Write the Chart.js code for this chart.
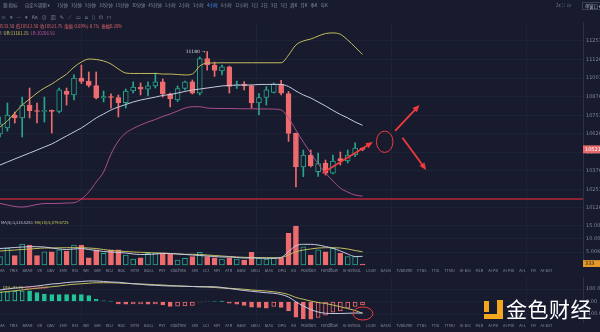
<!DOCTYPE html>
<html>
<head>
<meta charset="utf-8">
<script src="https://cdn.jsdelivr.net/npm/chart.js@4.4.1/dist/chart.umd.min.js"></script>
<style>
  body { margin: 0; width: 600px; height: 332px; overflow: hidden; position: relative; background: #171b2d;
         font-family: "Noto Sans CJK SC", "Noto Sans", "DejaVu Sans", sans-serif; }
  canvas { position: absolute; left: 0; }
  .row { position: absolute; white-space: nowrap; line-height: 1; color: #868b9e; z-index: 2; }
  .flex { display: flex; justify-content: space-between; }
  .logo { position: absolute; background: #f3a71f; z-index: 2; }
</style>
</head>
<body>
<div class="row" style="left:3px;top:3px;font-size:4.5px">▦ 指标</div>
<div class="row" style="left:25px;top:3px;font-size:4.3px">自定义周期 ▾</div>
<div class="row flex" id="periods" style="left:57px;width:271px;top:3px;font-size:4.3px"></div>
<div class="row" style="left:556px;top:3px;font-size:4.3px">2x&nbsp; ⛶&nbsp; ⊡</div>
<div class="row" style="left:582px;top:2px;font-size:4.3px;border:0.5px solid #3a3f55;padding:1px 2px;color:#b0b4c4">单窗口 ▾</div>
<div class="row flex" id="tools" style="left:1px;width:110px;top:14px;font-size:5px"></div>

<div class="row" style="left:-8px;top:23.5px;font-size:4.3px;color:#e0646a">高10533.58&nbsp; 低10512.50&nbsp; 收10521.75&nbsp; 涨幅-0.09%(-8.75)&nbsp; 振幅0.20%</div>
<div class="row" style="left:-4px;top:30.5px;font-size:4.3px">BB&nbsp; <span style="color:#d2c95a">UB:11161.15</span>&nbsp; <span style="color:#c2579e">LB:10206.56</span></div>
<div class="row" style="left:-6px;top:220px;font-size:4px">OL&nbsp; <span style="color:#c0c3cf">MA(5):3,314.5283</span>&nbsp; <span style="color:#d2c95a">MA(10):5,079.6725</span></div>
<div class="row" style="left:3px;top:285px;font-size:4px"><span style="color:#d2c95a">DEA:-93.74</span>&nbsp; <span style="color:#e0646a">MACD:-92.27</span></div>
<div class="row flex" id="indA" style="left:-1px;width:554px;top:269px;font-size:3.9px"></div>
<div class="row flex" id="indB" style="left:-1px;width:554px;top:324px;font-size:3.9px"></div>

<div class="logo" style="left:484px;top:301px;width:5px;height:11px"></div>
<div class="logo" style="left:497px;top:300px;width:6px;height:19px"></div>
<div class="logo" style="left:484px;top:314px;width:19px;height:5px"></div>
<div class="row" style="left:506px;top:298px;font-size:21px;color:#ffffff;letter-spacing:0.5px">金色财经</div>

<canvas id="price" width="600" height="190" style="top:22px"></canvas>
<canvas id="vol" width="600" height="55" style="top:212px"></canvas>
<canvas id="macd" width="600" height="46" style="top:277px"></canvas>

<script>
const periods = ['1分钟', '3分钟', '5分钟', '10分钟', '15分钟', '30分钟', '45分钟', '1小时', '2小时', '3小时', '4小时',
  '6小时', '12小时', '1日', '2日', '3日', '5日', '周K', '月K', '季K', '年K'];
const activePeriod = '4小时';
const tools = ['≡', '▾', '—', '▾', 'Aa', '⊘', '▨', '✎', '⟋', '▭', '⌂', '▯', '⊡', '⊓'];
const indicators = ['MA', 'TRIX', 'BRAR', 'VR', 'OBV', 'EMV', 'RSI', 'WR', 'SAR', 'KDJ', 'ROC', 'MTM', 'BOLL', 'PSY',
  'StochRSI', 'SMI', 'CCI', 'MFI', 'ATR', 'BBW', 'SKDJ', 'BIAS', 'DPO', 'AD', 'Position', 'Fundflow', 'AI-NetVOL',
  'LSUR', 'BASIS', 'TVolume', 'FTBS', 'TTSI', 'TTMU', 'AI-BSI', 'MLR', 'AI-PD', 'AI-PDI', 'AI-L', 'FR', 'AI-BST'];

const priceTicks = [11251.7, 11126.7, 11001.7, 10876.7, 10751.7, 10626.7, 10501.7, 10376.7, 10251.7, 10126.7];
const volumeTicks = [5000, 10000, 15000];
const macdTicks = [-100, 0, 100];

// 4h candles
const opens = [10625, 10666, 10753, 10733, 10820, 10783, 10777, 10784, 10777, 10915,
  10888, 11002, 10982, 10952, 10868, 10878, 10871, 10837, 10915, 10942,
  10928, 10949, 10976, 10895, 10854, 10932, 10976, 10901, 11134, 11090,
  11050, 11077, 10949, 10962, 10949, 10834, 10871, 10905, 10959, 10898,
  10629, 10403, 10484, 10372, 10430, 10362, 10460, 10443, 10484, 10530.5];
const highs = [10740, 10834, 10773, 10874, 10935, 10834, 10874, 10787, 10935, 10935,
  11023, 11090, 11043, 11043, 10915, 10895, 10888, 10928, 10976, 10969,
  10976, 11036, 10996, 10901, 10949, 10982, 10989, 11144, 11180, 11110,
  11090, 11083, 10982, 10979, 10955, 10898, 10945, 10969, 10986, 10912,
  10632, 10517, 10517, 10497, 10450, 10484, 10504, 10517, 10565, 10533.58];
const lows = [10605, 10645, 10699, 10605, 10733, 10699, 10706, 10632, 10767, 10820,
  10854, 10965, 10942, 10861, 10841, 10800, 10740, 10800, 10901, 10888,
  10881, 10935, 10874, 10807, 10844, 10922, 10895, 10888, 11056, 11013,
  11023, 10901, 10932, 10922, 10800, 10753, 10820, 10901, 10888, 10575,
  10268, 10338, 10403, 10339, 10349, 10356, 10416, 10430, 10472, 10512.5];
const closes = [10693, 10753, 10733, 10820, 10783, 10777, 10784, 10777, 10922, 10891,
  11002, 10979, 10952, 10868, 10878, 10871, 10837, 10915, 10942, 10928,
  10949, 10976, 10895, 10861, 10932, 10976, 10901, 11134, 11090, 11053,
  11077, 10945, 10955, 10949, 10834, 10871, 10922, 10959, 10901, 10629,
  10403, 10484, 10410, 10426, 10362, 10443, 10443, 10484, 10530.5, 10521.75];

const bollUpper = [10672, 10713, 10767, 10820, 10861, 10901, 10935, 10962, 10996, 11029,
  11076, 11110, 11130, 11127, 11117, 11097, 11063, 11036, 11033, 11033,
  11033, 11033, 11029, 11029, 11026, 11023, 11029, 11083, 11103, 11104,
  11105, 11105, 11105, 11105, 11105, 11105, 11105, 11105, 11105, 11157,
  11225, 11252, 11265, 11285, 11302, 11306, 11297, 11258, 11211, 11161.15];
const bollMid = [10416, 10437, 10457, 10477, 10497, 10517, 10538, 10558, 10585, 10612,
  10639, 10666, 10699, 10733, 10760, 10787, 10807, 10824, 10841, 10854,
  10864, 10874, 10885, 10891, 10901, 10912, 10922, 10928, 10935, 10942,
  10949, 10952, 10955, 10955, 10955, 10959, 10959, 10960, 10959, 10945,
  10915, 10888, 10868, 10841, 10814, 10784, 10757, 10733, 10706, 10684];
const bollLower = [10157, 10147, 10137, 10133, 10140, 10150, 10157, 10157, 10158, 10160,
  10162, 10187, 10234, 10302, 10369, 10490, 10578, 10632, 10662, 10686,
  10706, 10723, 10743, 10760, 10780, 10800, 10809, 10809, 10800, 10798,
  10797, 10797, 10796, 10795, 10795, 10794, 10794, 10793, 10787, 10733,
  10652, 10571, 10497, 10423, 10362, 10309, 10261, 10234, 10214, 10206.56];
const supportLevel = 10187;

const volumes = [3200, 6400, 3600, 8000, 7700, 3600, 5100, 5100, 5800, 5400,
  7700, 7700, 2800, 5800, 4500, 5800, 5800, 3800, 2300, 2800,
  4500, 4700, 4500, 4100, 1900, 2600, 3200, 4900, 3200, 2800,
  2300, 2800, 2300, 1900, 4900, 2600, 2300, 2600, 2800, 12200,
  15000, 7000, 3800, 5800, 5100, 6400, 4500, 3200, 3200, 333];
const volMa5 = [6346, 6538, 6731, 6923, 7038, 7038, 6923, 6538, 6154, 5961,
  6154, 6346, 5961, 5577, 5192, 5000, 4808, 4615, 4231, 4038,
  4038, 4231, 4423, 4423, 4231, 4038, 3846, 3654, 3461, 3269,
  3077, 3077, 2885, 2692, 2692, 2692, 2577, 2577, 2885, 5115,
  7423, 7961, 7961, 7692, 7115, 6423, 5385, 4231, 3269, 3314.53];
const volMa10 = [5385, 5577, 5769, 5961, 6154, 6346, 6538, 6538, 6615, 6654,
  6654, 6654, 6538, 6346, 5961, 5577, 5385, 5192, 5000, 4885,
  4808, 4615, 4615, 4423, 4231, 4115, 4115, 4038, 3846, 3654,
  3461, 3269, 3077, 2961, 2885, 2808, 2808, 2808, 2885, 3846,
  5115, 5769, 6154, 6538, 6654, 6654, 6538, 6154, 5577, 5079.67];

const macdDif = [92, 100, 108, 112, 118, 124, 132, 140, 144, 152,
  156, 160, 164, 164, 160, 156, 154, 148, 142, 138,
  132, 130, 126, 124, 124, 122, 120, 118, 118, 118,
  112, 104, 96, 88, 82, 76, 70, 66, 56, 36,
  -2, -36, -64, -84, -94, -96, -96, -94, -92, -92.27];
const macdDea = [74, 80, 86, 92, 100, 106, 112, 118, 124, 132,
  138, 142, 146, 150, 150, 150, 148, 145, 142, 140,
  138, 134, 132, 128, 124, 122, 120, 118, 116, 112,
  108, 106, 102, 98, 92, 88, 84, 78, 70, 56,
  32, 18, 4, -8, -16, -28, -42, -56, -72, -93.74];
const macdHist = [74, 78, 81, 86, 85, 72, 60, 55, 55, 55,
  55, 55, 48, 20, 6, 3, -20, -22, -20, -19,
  -22, -20, -27, -40, -38, -35, -32, -5, 3, 2,
  1, -13, -21, -32, -46, -48, -53, -40, -48, -75,
  -125, -140, -142, -128, -110, -85, -75, -53, -40, -27];

// arrows and rings drawn on the chart, in (candle index, value) units
const arrows = [[43.6, 10362, 50.4, 10571], [53.4, 10647, 56.7, 10820], [54.4, 10600, 57.6, 10383]];
const priceRing = [52.0, 10573, 1.12, 72];
const macdRing = [49.05, -96, 1.35, 52];

const BG = '#171b2d', UP = '#2aa58c', DOWN = '#ee6b6e', RED = '#f23a3c';
const X_MAX = 78.8;
const gridCols = [11.05, 34.7, 52.97, 71.2];

const periodRow = document.getElementById('periods');
periods.forEach(p => {
  const s = document.createElement('span');
  s.textContent = p;
  if (p === activePeriod) s.style.color = '#4c8ef7';
  periodRow.appendChild(s);
});
const toolRow = document.getElementById('tools');
tools.forEach(t => { const s = document.createElement('span'); s.textContent = t; toolRow.appendChild(s); });
['indA', 'indB'].forEach(id => {
  const el = document.getElementById(id);
  indicators.forEach(n => { const s = document.createElement('span'); s.textContent = n; el.appendChild(s); });
});

const idx = closes.map((_, i) => i);
const isUp = i => closes[i] >= opens[i];
const pts = arr => arr.map((v, i) => ({ x: i, y: v }));

function xAxis() {
  return {
    type: 'linear', min: 0, max: X_MAX, offset: false,
    grid: { color: '#1d2235', drawTicks: false, offset: false },
    border: { display: false },
    ticks: { display: false },
    afterBuildTicks: s => { s.ticks = gridCols.map(v => ({ value: v })); },
    afterFit: s => { s.height = 0; s.paddingLeft = 0; s.paddingRight = 0; }
  };
}

function yAxis(min, max, ticks, fmt) {
  return {
    position: 'right', min, max, beginAtZero: false,
    grid: { color: '#1d2235', drawTicks: false },
    border: { display: true, color: '#2b3045' },
    ticks: { color: '#7f8497', font: { size: 5, family: 'DejaVu Sans' }, padding: 3, autoSkip: false, callback: fmt },
    afterBuildTicks: s => { s.ticks = ticks.map(v => ({ value: v })); },
    afterFit: s => { s.width = 17; s.paddingTop = 0; s.paddingBottom = 0; }
  };
}

function line(data, color, width) {
  return { type: 'line', data: pts(data), borderColor: color, borderWidth: width || 1, pointRadius: 0,
    cubicInterpolationMode: 'monotone', order: 0 };
}

function arrow(ctx, x1, y1, x2, y2) {
  const a = Math.atan2(y2 - y1, x2 - x1), h = 7, w = 3;
  ctx.beginPath();
  ctx.moveTo(x1, y1);
  ctx.lineTo(x2 - Math.cos(a) * h * 0.8, y2 - Math.sin(a) * h * 0.8);
  ctx.stroke();
  ctx.beginPath();
  ctx.moveTo(x2, y2);
  ctx.lineTo(x2 - h * Math.cos(a) + w * Math.sin(a), y2 - h * Math.sin(a) - w * Math.cos(a));
  ctx.lineTo(x2 - h * Math.cos(a) - w * Math.sin(a), y2 - h * Math.sin(a) + w * Math.cos(a));
  ctx.closePath();
  ctx.fill();
}

function ring(ctx, x, y, r) {
  const cx = x.getPixelForValue(r[0]), cy = y.getPixelForValue(r[1]);
  const rx = x.getPixelForValue(r[0] + r[2]) - cx, ry = cy - y.getPixelForValue(r[1] + r[3]);
  ctx.beginPath();
  ctx.ellipse(cx, cy, rx, ry, 0, 0, Math.PI * 2);
  ctx.stroke();
}

function valueBox(ctx, chart, value, text, fill, color) {
  const y = chart.scales.y.getPixelForValue(value), left = chart.chartArea.right;
  ctx.fillStyle = fill;
  ctx.fillRect(left, y - 4, 600 - left, 8);
  ctx.fillStyle = color;
  ctx.font = '5px "DejaVu Sans"';
  ctx.textAlign = 'left';
  ctx.textBaseline = 'middle';
  ctx.fillText(text, left + 2, y);
}

const priceMarks = {
  id: 'priceMarks',
  afterDraw(chart) {
    const { ctx, scales: { x, y } } = chart;
    ctx.save();
    const hi = highs.indexOf(Math.max(...highs));
    ctx.font = '4.5px "DejaVu Sans"';
    ctx.fillStyle = '#d4d6de';
    ctx.textAlign = 'right';
    ctx.textBaseline = 'middle';
    ctx.fillText(highs[hi] + ' →', x.getPixelForValue(hi) - 2, y.getPixelForValue(highs[hi]));
    ctx.strokeStyle = RED;
    ctx.fillStyle = RED;
    ctx.lineWidth = 1.8;
    arrows.forEach(a => arrow(ctx, x.getPixelForValue(a[0]), y.getPixelForValue(a[1]),
      x.getPixelForValue(a[2]), y.getPixelForValue(a[3])));
    ctx.lineWidth = 1;
    ring(ctx, x, y, priceRing);
    const last = closes.length - 1;
    valueBox(ctx, chart, closes[last], closes[last].toFixed(1), '#e5686b', '#ffffff');
    ctx.restore();
  }
};

const volMarks = {
  id: 'volMarks',
  afterDraw(chart) {
    const ctx = chart.ctx;
    ctx.save();
    const last = volumes[volumes.length - 1];
    valueBox(ctx, chart, last, String(last), '#e49b2c', '#2a1e0a');
    ctx.restore();
  }
};

const macdMarks = {
  id: 'macdMarks',
  afterDraw(chart) {
    const { ctx, scales: { x, y } } = chart;
    ctx.save();
    ctx.strokeStyle = RED;
    ctx.lineWidth = 1;
    ring(ctx, x, y, macdRing);
    ctx.restore();
  }
};

const common = {
  responsive: false, devicePixelRatio: 1, animation: false,
  layout: { padding: 0 },
  plugins: { legend: { display: false }, tooltip: { enabled: false } }
};

new Chart(document.getElementById('price'), {
  type: 'bar',
  data: {
    datasets: [
      line(bollUpper, '#c4bd5f'),
      line(bollMid, '#c6cae0'),
      line(bollLower, '#a8508f'),
      { type: 'line', data: [{ x: 0, y: supportLevel }, { x: X_MAX, y: supportLevel }], borderColor: '#b3263a',
        borderWidth: 1.5, pointRadius: 0, order: 0 },
      { type: 'bar', data: idx.map(i => ({ x: i, y: [opens[i], closes[i]] })),
        backgroundColor: idx.map(i => isUp(i) ? BG : DOWN), borderColor: idx.map(i => isUp(i) ? UP : DOWN),
        borderWidth: 1, borderSkipped: false, barThickness: 5, minBarLength: 1, grouped: false, order: 1 },
      { type: 'bar', data: idx.map(i => ({ x: i, y: [lows[i], highs[i]] })),
        backgroundColor: idx.map(i => isUp(i) ? UP : DOWN), barThickness: 1, grouped: false, order: 2 }
    ]
  },
  options: Object.assign({}, common, {
    scales: {
      x: xAxis(),
      y: yAxis(10099.7, 11379.7, priceTicks, v => v.toFixed(1))
    }
  }),
  plugins: [priceMarks]
});

new Chart(document.getElementById('vol'), {
  type: 'bar',
  data: {
    datasets: [
      line(volMa5, '#c6cae0'),
      line(volMa10, '#c4bd5f'),
      { type: 'bar', data: pts(volumes),
        backgroundColor: idx.map(i => isUp(i) ? BG : DOWN), borderColor: idx.map(i => isUp(i) ? UP : DOWN),
        borderWidth: 1, borderSkipped: false, barThickness: 5, grouped: false, order: 1 }
    ]
  },
  options: Object.assign({}, common, {
    scales: {
      x: xAxis(),
      y: yAxis(-769, 20384, volumeTicks, v => (v / 1000).toFixed(2) + 'K')
    }
  }),
  plugins: [volMarks]
});

const histRising = macdHist.map((v, i) => i === 0 ? v >= 0 : v > macdHist[i - 1]);
new Chart(document.getElementById('macd'), {
  type: 'bar',
  data: {
    datasets: [
      line(macdDif, '#c6cae0'),
      line(macdDea, '#c4bd5f'),
      { type: 'bar', data: pts(macdHist),
        backgroundColor: macdHist.map((v, i) => v >= 0 ? (histRising[i] ? BG : '#22c497') : (histRising[i] ? BG : DOWN)),
        borderColor: macdHist.map(v => v >= 0 ? '#22c497' : DOWN),
        borderWidth: 1, borderSkipped: false, barThickness: 4, grouped: false, order: 1 }
    ]
  },
  options: Object.assign({}, common, {
    scales: {
      x: xAxis(),
      y: yAxis(-172, 196, macdTicks, v => v.toFixed(2))
    }
  }),
  plugins: [macdMarks]
});
</script>
</body>
</html>
